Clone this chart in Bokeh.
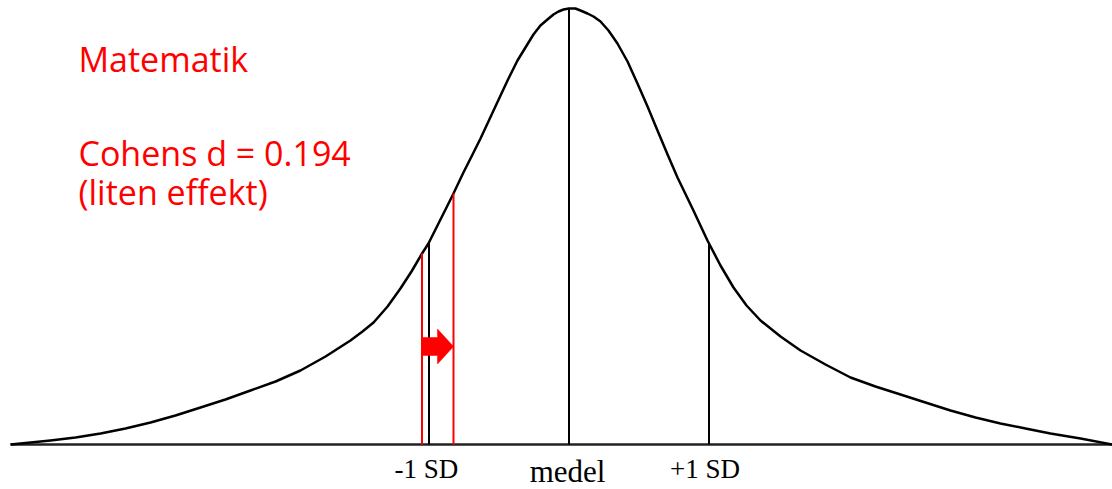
import numpy as np
from bokeh.plotting import figure
from bokeh.models import Range1d
from bokeh.core.properties import value
from bokeh.embed import file_html
from bokeh.resources import INLINE

# Curve: x in SD units from the mean, height in relative units
curve_x = [-3.989, -3.846, -3.704, -3.525, -3.346, -3.168, -2.989, -2.811, -2.632, -2.454,
           -2.275, -2.096, -1.918, -1.739, -1.561, -1.475, -1.396, -1.296, -1.204, -1.125,
           -1.054, -1.004, -0.918, -0.832, -0.754, -0.689, -0.632, -0.539, -0.439, -0.368,
           -0.311, -0.254, -0.204, -0.154, -0.111, -0.075, -0.039, 0.0, 0.046, 0.082,
           0.132, 0.175, 0.225, 0.282, 0.346, 0.418, 0.489, 0.561, 0.632, 0.704,
           0.775, 0.882, 0.989, 1.082, 1.175, 1.268, 1.368, 1.511, 1.654, 1.832,
           2.011, 2.189, 2.368, 2.546, 2.725, 2.904, 3.082, 3.261, 3.439, 3.654, 3.882]
curve_y = [0, 2, 4, 7, 11, 16, 22, 29, 37, 45,
           54, 63, 74, 88, 104, 113, 122, 138, 156, 173,
           190, 201, 225, 249, 272, 290, 306, 334, 364, 384,
           397, 410, 419, 425, 430, 433, 435, 436, 436, 434,
           431, 428, 423, 414, 401, 383, 361, 338, 314, 290,
           267, 236, 204, 179, 157, 139, 124, 108, 94, 80,
           67, 58, 50, 42, 34, 27, 21, 16, 11, 6, 0]

# Reference lines (black): -1 SD, mean, +1 SD
sd_positions = [-1.0, 0.0, 1.0]
sd_labels = ["-1 SD", "medel", "+1 SD"]

# Red lines: original and shifted (-1 SD group)
red_positions = [-1.05, -0.825]

title_text = "Matematik"
effect_lines = ["Cohens d = 0.194", "(liten effekt)"]

RED = "#FF0000"

p = figure(width=1112, height=489, output_backend="svg", toolbar_location=None,
           x_axis_location=None, y_axis_location=None, min_border=0,
           x_range=Range1d((0 - 568.5) / 140, (1112 - 568.5) / 140),
           y_range=Range1d(444 - 489, 444))
p.grid.visible = False
p.outline_line_color = None
p.background_fill_color = "white"
p.border_fill_color = "white"

# baseline
p.line([curve_x[0], curve_x[-1]], [0, 0], line_color="#222222", line_width=2.5)

# curve
p.line(curve_x, curve_y, line_color="black", line_width=2.5, line_join="round")

# black vertical lines up to the curve
sd_tops = np.interp(sd_positions, curve_x, curve_y)
p.segment(x0=sd_positions, y0=[0] * 3, x1=sd_positions, y1=list(sd_tops),
          line_color="black", line_width=2)

# red vertical lines
red_tops = np.interp(red_positions, curve_x, curve_y)
p.segment(x0=red_positions, y0=[0] * 2, x1=red_positions, y1=list(red_tops),
          line_color=RED, line_width=2)

# red arrow between the red lines
xl, xr = red_positions
xm = xr - 16 / 140
yc = 98
p.patch([xl, xm, xm, xr, xm, xm, xl],
        [yc - 9, yc - 9, yc - 17.5, yc, yc + 17.5, yc + 9, yc + 9],
        fill_color=RED, line_color=RED, line_width=0.5)

# labels under the baseline
serif = value("Liberation Serif")
p.text(x=[sd_positions[0] - 0.018], y=[444 - 468], text=[sd_labels[0]],
       text_font=serif, text_font_size="27px",
       text_align="center", text_baseline="alphabetic", text_color="black")
p.text(x=[sd_positions[1] - 0.01], y=[444 - 471], text=[sd_labels[1]],
       text_font=serif, text_font_size="31px",
       text_align="center", text_baseline="alphabetic", text_color="black")
p.text(x=[sd_positions[2] - 0.029], y=[444 - 468], text=[sd_labels[2]],
       text_font=serif, text_font_size="27px",
       text_align="center", text_baseline="alphabetic", text_color="black")

# red texts
tx = (78 - 568.5) / 140
sans = value("Open Sans")
p.text(x=[tx], y=[444 - 58], text=[title_text], text_font=sans,
       text_font_size="34px", text_align="left", text_baseline="alphabetic",
       text_color=RED)
p.text(x=[tx, tx], y=[444 - 152, 444 - 191], text=effect_lines,
       text_font=sans, text_font_size="34px", text_align="left",
       text_baseline="alphabetic", text_color=RED)

open("out.html", "w").write(file_html(p, INLINE))
